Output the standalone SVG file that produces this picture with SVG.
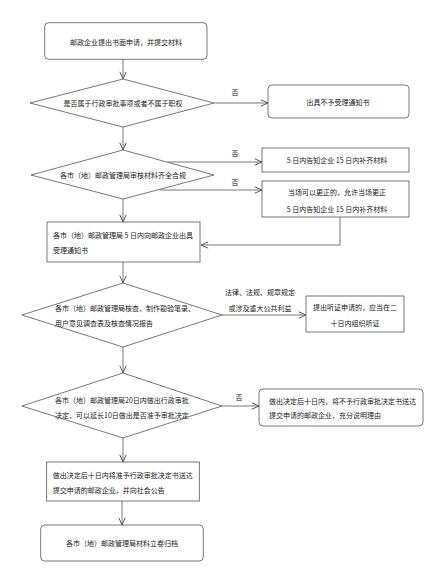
<svg xmlns="http://www.w3.org/2000/svg" width="431" height="584" viewBox="0 0 431 584">
<style>
.s{fill:#fff;stroke:#555;stroke-width:0.8}
.c{fill:none;stroke:#555;stroke-width:0.8}
text{font-family:"Noto Sans CJK SC","Liberation Serif",serif;font-size:7px;fill:#222}
.m{text-anchor:middle}
</style>
<defs>
<marker id="a" viewBox="0 0 10 10" refX="10" refY="5" markerWidth="8" markerHeight="8" markerUnits="userSpaceOnUse" orient="auto">
<polyline points="1,1 10,5 1,9" fill="none" stroke="#555" stroke-width="1.2"/>
</marker>
</defs>
<rect width="431" height="584" fill="#fff"/>
<g id="connectors">
<line class="c" x1="123" y1="59" x2="123" y2="79" marker-end="url(#a)"/>
<line class="c" x1="214" y1="103" x2="268" y2="103" marker-end="url(#a)"/>
<line class="c" x1="123" y1="127" x2="123" y2="150" marker-end="url(#a)"/>
<line class="c" x1="167" y1="162" x2="262" y2="162" marker-end="url(#a)"/>
<line class="c" x1="160" y1="190" x2="262" y2="190" marker-end="url(#a)"/>
<polyline class="c" points="340,217 340,245 201,245" marker-end="url(#a)"/>
<line class="c" x1="123" y1="199" x2="123" y2="222" marker-end="url(#a)"/>
<line class="c" x1="123" y1="262" x2="123" y2="283" marker-end="url(#a)"/>
<line class="c" x1="222" y1="315" x2="306" y2="315" marker-end="url(#a)"/>
<line class="c" x1="123" y1="347" x2="123" y2="373" marker-end="url(#a)"/>
<line class="c" x1="222" y1="406" x2="259" y2="406" marker-end="url(#a)"/>
<line class="c" x1="123" y1="438" x2="123" y2="462" marker-end="url(#a)"/>
<line class="c" x1="122" y1="501" x2="122" y2="525" marker-end="url(#a)"/>
<text class="m" x="235" y="95">否</text>
<text class="m" x="235" y="156">否</text>
<text class="m" x="235" y="185">否</text>
<text class="m" x="260" y="295">法律、法规、规章规定</text>
<text class="m" x="260" y="311">或涉及重大公共利益</text>
<text class="m" x="239" y="400">否</text>
</g>
<g id="n1">
<rect class="s" x="44.7" y="22.7" width="162.3" height="36.6" rx="4"/>
<text class="m" x="126" y="44.5">邮政企业提出书面申请，并提交材料</text>
</g>
<g id="n2">
<polygon class="s" points="123,79 214,103 123,127 30,103"/>
<text class="m" x="123" y="105.5">是否属于行政审批事项或者不属于职权</text>
</g>
<g id="n3">
<rect class="s" x="268" y="85" width="141" height="33" rx="4"/>
<text class="m" x="338" y="104.5">出具不予受理通知书</text>
</g>
<g id="n4">
<polygon class="s" points="123,150 214,175 123,199 31,175"/>
<text class="m" x="123" y="177.5">各市（地）邮政管理局审核材料齐全合规</text>
</g>
<g id="n5">
<rect class="s" x="262" y="148" width="147" height="24"/>
<text class="m" x="337" y="162.5">5 日内告知企业 15 日内补齐材料</text>
</g>
<g id="n6">
<rect class="s" x="262" y="181" width="147" height="36"/>
<text class="m" x="337" y="195">当场可以更正的，允许当场更正</text>
<text class="m" x="337" y="211.5">5 日内告知企业 15 日内补齐材料</text>
</g>
<g id="n7">
<rect class="s" x="47" y="222" width="153" height="40"/>
<text x="53" y="237.5">各市（地）邮政管理局 5 日内向邮政企业出具</text>
<text x="53" y="252.5">受理通知书</text>
</g>
<g id="n8">
<polygon class="s" points="123,283 222,315 123,347 22,315"/>
<text x="55" y="310.5">各市（地）邮政管理局核查，制作勘验笔录、</text>
<text x="55" y="325.5">用户意见调查表及核查情况报告</text>
</g>
<g id="n9">
<rect class="s" x="306" y="296" width="98" height="36"/>
<text class="m" x="355" y="309.5">提出听证申请的，应当在二</text>
<text class="m" x="355" y="325.5">十日内组织听证</text>
</g>
<g id="n10">
<polygon class="s" points="123,373 222,406 123,438 22,406"/>
<text x="55" y="402.5">各市（地）邮政管理局20日内做出行政审批</text>
<text x="55" y="418">决定，可以延长10日做出是否准予审批决定</text>
</g>
<g id="n11">
<rect class="s" x="259" y="389" width="164" height="37" rx="4"/>
<text x="269" y="403.5">做出决定后十日内，将不予行政审批决定书送达</text>
<text x="269" y="418">提交申请的邮政企业，充分说明理由</text>
</g>
<g id="n12">
<rect class="s" x="46.7" y="462" width="152.6" height="39"/>
<text x="52.7" y="477.5">做出决定后十日内将准予行政审批决定书送达</text>
<text x="52.7" y="492.5">提交申请的邮政企业，并向社会公告</text>
</g>
<g id="n13">
<rect class="s" x="40.7" y="525" width="162.6" height="36" rx="4"/>
<text class="m" x="122" y="545.5">各市（地）邮政管理局材料立卷归档</text>
</g>
</svg>
